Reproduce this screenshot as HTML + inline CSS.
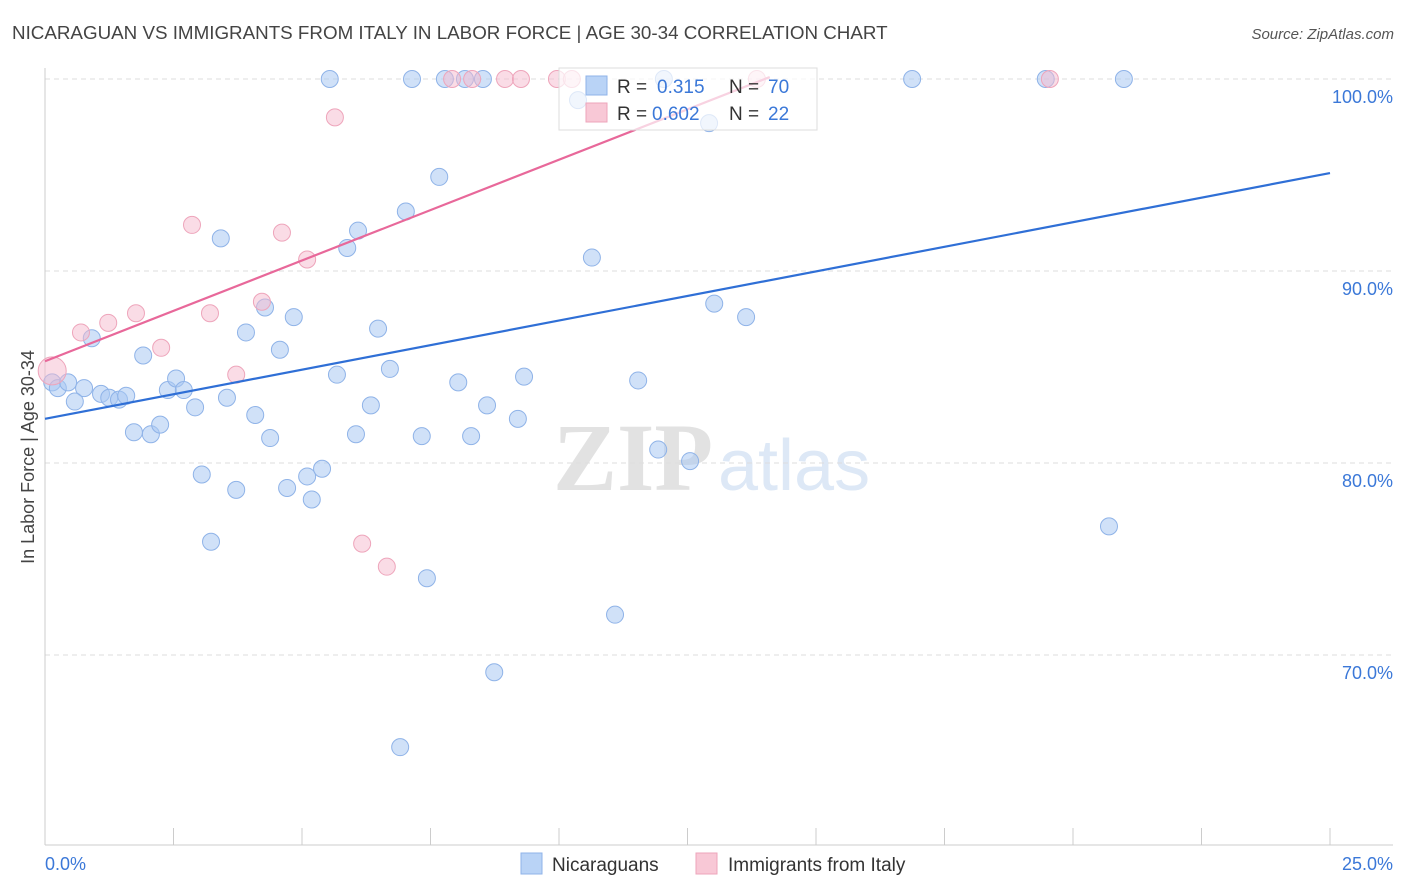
<!DOCTYPE html>
<html><head><meta charset="utf-8"><style>
body{margin:0;background:#fff;font-family:"Liberation Sans",sans-serif;}
svg{display:block}
</style></head><body>
<svg id="c" width="1406" height="892">
<text x="12" y="39" font-size="18.8" fill="#444">NICARAGUAN VS IMMIGRANTS FROM ITALY IN LABOR FORCE | AGE 30-34 CORRELATION CHART</text>
<text x="1394" y="39" font-size="15" fill="#555" font-style="italic" text-anchor="end">Source: ZipAtlas.com</text>
<text transform="translate(34,457) rotate(-90)" font-size="18" fill="#444" text-anchor="middle">In Labor Force | Age 30-34</text>
<g><text x="553" y="490" font-size="96" fill="#e2e2e2" font-family="Liberation Serif,serif" font-weight="bold">ZIP</text><text x="718" y="490" font-size="72" fill="#dde8f6">atlas</text></g>
<g id="grid"></g><g id="axes"></g><g id="pts"></g><g id="lines"></g>
<g>
<rect x="559" y="68" width="258" height="62" fill="#fff" fill-opacity="0.7" stroke="#ddd"/>
<rect x="586" y="76" width="21" height="19" fill="#b9d3f6" stroke="#8fb3e8"/>
<text x="617" y="93" font-size="19" fill="#333">R =</text>
<text x="657" y="93" font-size="19" fill="#3b78d8">0.315</text>
<text x="729" y="93" font-size="19" fill="#333">N =</text>
<text x="768" y="93" font-size="19" fill="#3b78d8">70</text>
<rect x="586" y="103" width="21" height="19" fill="#f8c8d6" stroke="#eea5bb"/>
<text x="617" y="120" font-size="19" fill="#333">R =</text>
<text x="652" y="120" font-size="19" fill="#3b78d8">0.602</text>
<text x="729" y="120" font-size="19" fill="#333">N =</text>
<text x="768" y="120" font-size="19" fill="#3b78d8">22</text>
</g>
<g>
<rect x="521" y="853" width="21" height="21" fill="#b9d3f6" stroke="#8fb3e8"/>
<text x="552" y="871" font-size="19" fill="#333">Nicaraguans</text>
<rect x="696" y="853" width="21" height="21" fill="#f8c8d6" stroke="#eea5bb"/>
<text x="728" y="871" font-size="19" fill="#333">Immigrants from Italy</text>
</g>
<text x="45" y="870" font-size="18" fill="#3b78d8">0.0%</text>
<text x="1393" y="870" font-size="18" fill="#3b78d8" text-anchor="end">25.0%</text>
</svg>
<script>
const yTicks=[100,90,80,70];
const xTickVals=[0,2.5,5,7.5,10,12.5,15,17.5,20,22.5,25];
const blueX=[5.54,7.14,7.78,8.17,8.52,12.04,16.87,19.47,20.99,10.37,12.92,7.67,7.02,6.09,3.42,5.88,10.64,13.02,13.64,4.28,4.84,3.91,6.48,0.91,4.57,1.91,5.68,6.71,9.32,11.54,8.04,0.14,0.25,0.45,0.76,0.58,1.09,1.25,1.44,1.58,2.39,2.55,2.70,2.92,3.54,4.09,8.60,9.20,6.34,1.73,2.06,2.24,4.38,6.05,7.33,8.29,11.93,12.55,3.05,3.72,4.71,5.10,5.39,5.19,3.23,20.70,7.43,11.09,8.74,6.91];
const blueY=[100,100,100,100,100,100,100,100,100,98.9,97.7,94.9,93.1,92.1,91.7,91.2,90.7,88.3,87.6,88.1,87.6,86.8,87.0,86.5,85.9,85.6,84.6,84.9,84.5,84.3,84.2,84.2,83.9,84.2,83.9,83.2,83.6,83.4,83.3,83.5,83.8,84.4,83.8,82.9,83.4,82.5,83.0,82.3,83.0,81.6,81.5,82.0,81.3,81.5,81.4,81.4,80.7,80.1,79.4,78.6,78.7,79.3,79.7,78.1,75.9,76.7,74.0,72.1,69.1,65.2];
const pinkX=[0.14,0.70,1.23,1.77,2.26,2.86,3.21,3.72,4.22,4.61,5.10,5.64,6.17,6.65,7.92,8.31,8.95,9.26,9.96,10.25,13.85,19.55];
const pinkY=[84.8,86.8,87.3,87.8,86.0,92.4,87.8,84.6,88.4,92.0,90.6,98.0,75.8,74.6,100,100,100,100,100,100,100,100];
const blueTrendX=[0,25], blueTrendY=[82.3,95.1];
const pinkTrendX=[0,14.1], pinkTrendY=[85.3,100.1];
const X=v=>45+v*51.4, Y=v=>79+(100-v)*19.2;
const NS="http://www.w3.org/2000/svg";
function mk(tag,attrs,parent){const e=document.createElementNS(NS,tag);for(const k in attrs)e.setAttribute(k,attrs[k]);document.getElementById(parent).appendChild(e);return e;}
yTicks.forEach(t=>{
 const l=mk('line',{x1:45,x2:1393,y1:Y(t),y2:Y(t),stroke:'#ddd','stroke-dasharray':'5,4'},'grid');
 
 
 const tx=mk('text',{x:1393,y:Y(t)+24,'font-size':18,fill:'#3b78d8','text-anchor':'end'},'grid');
 tx.textContent=t.toFixed(1)+'%';
 
 
});
const ax=mk('line',{x1:45,x2:45,y1:68,y2:845,stroke:'#ccc'},'axes');


const bx=mk('line',{x1:45,x2:1393,y1:845,y2:845,stroke:'#ccc'},'axes');


xTickVals.forEach(t=>{
 const l=mk('line',{x1:X(t),x2:X(t),y1:828,y2:845,stroke:'#ccc'},'axes');
 
 
});
blueX.forEach((v,i)=>{
 const c=mk('circle',{cx:X(v),cy:Y(blueY[i]),r:8.5,fill:'rgba(170,200,242,0.55)',stroke:'#8fb3e8','stroke-width':1},'pts');
 
 
});
pinkX.forEach((v,i)=>{
 const c=mk('circle',{cx:X(v),cy:Y(pinkY[i]),r:i==0?14:8.5,fill:'rgba(246,185,205,0.5)',stroke:'#eea5bb','stroke-width':1},'pts');
 
 
});
const bl=mk('line',{x1:X(blueTrendX[0]),y1:Y(blueTrendY[0]),x2:X(blueTrendX[1]),y2:Y(blueTrendY[1]),stroke:'#2f6fd6','stroke-width':2.2},'lines');


const pl=mk('line',{x1:X(pinkTrendX[0]),y1:Y(pinkTrendY[0]),x2:X(pinkTrendX[1]),y2:Y(pinkTrendY[1]),stroke:'#e8689a','stroke-width':2.2},'lines');


</script>
</body></html>
